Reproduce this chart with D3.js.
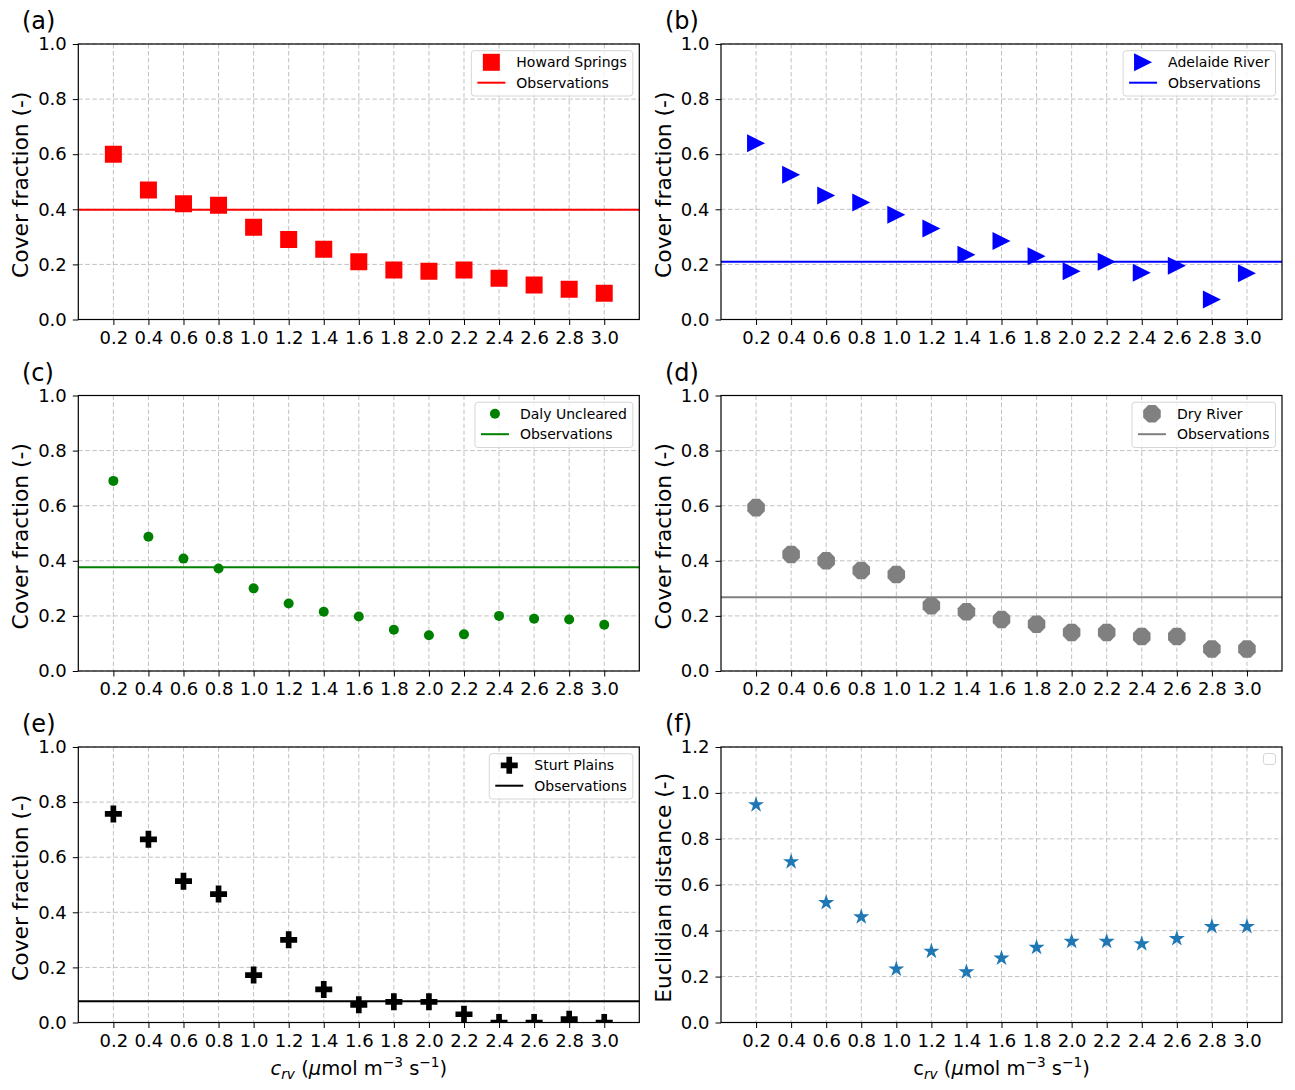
<!DOCTYPE html>
<html>
<head>
<meta charset="utf-8">
<script src="https://cdn.jsdelivr.net/npm/d3@7"></script>
<style>
  body { margin: 0; background: #fff; }
  svg { font-family: "DejaVu Sans", sans-serif; display: block; }
</style>
</head>
<body>
<svg id="chart"></svg>
<script>
// x values shared by every panel
var crv = [0.2, 0.4, 0.6, 0.8, 1.0, 1.2, 1.4, 1.6, 1.8, 2.0, 2.2, 2.4, 2.6, 2.8, 3.0];
var xTicks = [0.2, 0.4, 0.6, 0.8, 1.0, 1.2, 1.4, 1.6, 1.8, 2.0, 2.2, 2.4, 2.6, 2.8, 3.0];
var coverTicks = [0.0, 0.2, 0.4, 0.6, 0.8, 1.0];
var distTicks = [0.0, 0.2, 0.4, 0.6, 0.8, 1.0, 1.2];

// modelled cover fraction per site
var howardSprings = [0.60, 0.47, 0.42, 0.415, 0.335, 0.29, 0.255, 0.21, 0.18, 0.175, 0.18, 0.15, 0.125, 0.11, 0.095];
var adelaideRiver = [0.64, 0.525, 0.45, 0.425, 0.38, 0.33, 0.235, 0.285, 0.23, 0.175, 0.21, 0.17, 0.195, 0.073, 0.168];
var dalyUncleared = [0.69, 0.487, 0.408, 0.372, 0.30, 0.245, 0.215, 0.198, 0.15, 0.13, 0.133, 0.20, 0.19, 0.187, 0.168];
var dryRiver = [0.593, 0.423, 0.40, 0.365, 0.35, 0.237, 0.215, 0.187, 0.17, 0.14, 0.14, 0.125, 0.125, 0.08, 0.08];
var sturtPlains = [0.757, 0.665, 0.513, 0.466, 0.172, 0.30, 0.12, 0.064, 0.075, 0.075, 0.03, 0.0, 0.0, 0.012, 0.0];
var euclidDist = [0.948, 0.70, 0.522, 0.46, 0.233, 0.31, 0.22, 0.28, 0.327, 0.353, 0.353, 0.343, 0.365, 0.418, 0.418];

// observed cover fraction per site
var observed = [0.398, 0.21, 0.377, 0.268, 0.077];
var siteNames = ["Howard Springs", "Adelaide River", "Daly Uncleared", "Dry River", "Sturt Plains"];
var panelLetters = ["(a)", "(b)", "(c)", "(d)", "(e)", "(f)"];

var W = 1295, H = 1090;
var svg = d3.select("#chart").attr("width", W).attr("height", H);

var colLeft = [78.3, 721];
var rowTop = [44, 395.5, 747];
var pw = 561, ph = 275.5;

// marker path builders (centred at 0,0)
function squarePath(s) { var h = s / 2; return "M" + -h + "," + -h + "H" + h + "V" + h + "H" + -h + "Z"; }
function triRightPath(s) { var h = s / 2; return "M" + -h + "," + -h + "L" + h + ",0L" + -h + "," + h + "Z"; }
function circlePath(s) { var r = s / 2; return "M" + r + ",0A" + r + "," + r + " 0 1,1 " + -r + ",0A" + r + "," + r + " 0 1,1 " + r + ",0Z"; }
function octPath(s) {
  var r = s / 2, p = [];
  for (var i = 0; i < 8; i++) { var a = Math.PI / 8 + i * Math.PI / 4; p.push([r * Math.cos(a), r * Math.sin(a)]); }
  return "M" + p.join("L") + "Z";
}
function plusPath(s) {
  var a = s / 2, b = s / 6;
  return "M" + -b + "," + -a + "H" + b + "V" + -b + "H" + a + "V" + b + "H" + b + "V" + a + "H" + -b + "V" + b + "H" + -a + "V" + -b + "H" + -b + "Z";
}
function starPath(s) {
  var R = s / 2, r = R * 0.382, p = [];
  for (var i = 0; i < 10; i++) {
    var a = -Math.PI / 2 + i * Math.PI / 5, rr = i % 2 ? r : R;
    p.push([rr * Math.cos(a), rr * Math.sin(a)]);
  }
  return "M" + p.join("L") + "Z";
}

var panels = [
  { values: howardSprings, obs: observed[0], name: siteNames[0], color: "#ff0000", marker: squarePath(17) },
  { values: adelaideRiver, obs: observed[1], name: siteNames[1], color: "#0000ff", marker: triRightPath(18) },
  { values: dalyUncleared, obs: observed[2], name: siteNames[2], color: "#008000", marker: circlePath(10) },
  { values: dryRiver, obs: observed[3], name: siteNames[3], color: "#808080", marker: octPath(19) },
  { values: sturtPlains, obs: observed[4], name: siteNames[4], color: "#000000", marker: plusPath(17) },
  { values: euclidDist, obs: null, name: null, color: "#1f77b4", marker: starPath(17) }
];

panels.forEach(function (p, i) {
  var col = i % 2, row = Math.floor(i / 2);
  var x0 = colLeft[col], y0 = rowTop[row];
  var yTicks = i === 5 ? distTicks : coverTicks;

  var x = d3.scaleLinear().domain([0, 3.2]).range([0, pw]);
  var y = d3.scaleLinear().domain([0, yTicks[yTicks.length - 1]]).range([ph, 0]);

  var g = svg.append("g").attr("transform", "translate(" + x0 + "," + y0 + ")");

  g.append("clipPath").attr("id", "clip" + i)
    .append("rect").attr("width", pw).attr("height", ph);

  // grid
  var grid = g.append("g").attr("stroke", "#c0c0c0").attr("stroke-width", 1).attr("stroke-dasharray", "4.5,2.5");
  grid.selectAll(".gx").data(xTicks).enter().append("line")
    .attr("x1", function (d) { return x(d); }).attr("x2", function (d) { return x(d); })
    .attr("y1", 0).attr("y2", ph);
  grid.selectAll(".gy").data(yTicks).enter().append("line")
    .attr("y1", function (d) { return y(d); }).attr("y2", function (d) { return y(d); })
    .attr("x1", 0).attr("x2", pw);

  var plot = g.append("g").attr("clip-path", "url(#clip" + i + ")");

  plot.selectAll("path.pt").data(p.values).enter().append("path")
    .attr("class", "pt")
    .attr("d", p.marker)
    .attr("fill", p.color)
    .attr("transform", function (d, k) { return "translate(" + x(crv[k]) + "," + y(d) + ")"; });

  if (p.obs !== null) {
    plot.append("line")
      .attr("x1", 0).attr("x2", pw)
      .attr("y1", y(p.obs)).attr("y2", y(p.obs))
      .attr("stroke", p.color).attr("stroke-width", 2);
  }

  // axes
  var xa = g.append("g").attr("transform", "translate(0," + ph + ")")
    .call(d3.axisBottom(x).tickValues(xTicks).tickFormat(d3.format(".1f")).tickSize(5.5).tickPadding(6).tickSizeOuter(0));
  var ya = g.append("g")
    .call(d3.axisLeft(y).tickValues(yTicks).tickFormat(d3.format(".1f")).tickSize(5.5).tickPadding(6).tickSizeOuter(0));
  [xa, ya].forEach(function (a) {
    a.select(".domain").remove();
    a.selectAll("text").attr("font-size", 18).attr("font-family", "DejaVu Sans").attr("fill", "#000");
    a.selectAll("line").attr("stroke", "#000").attr("stroke-width", 1);
  });

  g.append("rect").attr("width", pw).attr("height", ph)
    .attr("fill", "none").attr("stroke", "#000").attr("stroke-width", 1.2);

  // y label
  g.append("text")
    .attr("transform", "translate(-50," + (ph / 2 + 3) + ") rotate(-90)")
    .attr("text-anchor", "middle").attr("font-size", 21.8)
    .text(i === 5 ? "Euclidian distance (-)" : "Cover fraction (-)");

  // panel letter
  svg.append("text")
    .attr("x", col === 0 ? 22 : 665).attr("y", y0 - 15)
    .attr("font-size", 24)
    .text(panelLetters[i]);

  // x label on bottom row
  if (row === 2) {
    var xl = g.append("text").attr("x", pw / 2).attr("y", ph + 52.5)
      .attr("text-anchor", "middle").attr("font-size", 19.5);
    xl.append("tspan").attr("font-style", i === 4 ? "italic" : "normal").text("c");
    xl.append("tspan").attr("font-style", "italic").attr("font-size", 13.7).attr("dy", 4).text("rv");
    xl.append("tspan").attr("dy", -4).text(" (");
    xl.append("tspan").attr("font-style", "italic").text("\u03bc");
    xl.append("tspan").text("mol m");
    xl.append("tspan").attr("font-size", 13.7).attr("dy", -8).text("\u22123");
    xl.append("tspan").attr("dy", 8).text(" s");
    xl.append("tspan").attr("font-size", 13.7).attr("dy", -8).text("\u22121");
    xl.append("tspan").attr("dy", 8).text(")");
  }

  // legend
  if (p.name) {
    var lg = g.append("g");
    var box = lg.append("rect");
    var t1 = lg.append("text").attr("font-size", 14).attr("y", 0).text(p.name);
    var t2 = lg.append("text").attr("font-size", 14).attr("y", 0).text("Observations");
    var tw = Math.max(t1.node().getComputedTextLength(), t2.node().getComputedTextLength());
    var bw = tw + 51, bx = pw - 6.5 - bw, by = 6.7;
    box.attr("x", bx).attr("y", by).attr("width", bw).attr("height", 45.3)
      .attr("rx", 3).attr("fill", "#fff").attr("fill-opacity", 0.8)
      .attr("stroke", "#d6d6d6").attr("stroke-width", 1);
    t1.attr("x", bx + 45).attr("y", by + 11.6).attr("dominant-baseline", "central");
    t2.attr("x", bx + 45).attr("y", by + 32).attr("dominant-baseline", "central");
    lg.append("path").attr("d", p.marker).attr("fill", p.color)
      .attr("transform", "translate(" + (bx + 20) + "," + (by + 11.6) + ")");
    lg.append("line").attr("x1", bx + 6).attr("x2", bx + 34)
      .attr("y1", by + 32).attr("y2", by + 32)
      .attr("stroke", p.color).attr("stroke-width", 2);
  } else {
    // empty legend box
    g.append("rect").attr("x", pw - 18.5).attr("y", 6.5).attr("width", 12).attr("height", 11)
      .attr("rx", 2.5).attr("fill", "#fff").attr("stroke", "#d6d6d6").attr("stroke-width", 1);
  }
});
</script>
</body>
</html>
